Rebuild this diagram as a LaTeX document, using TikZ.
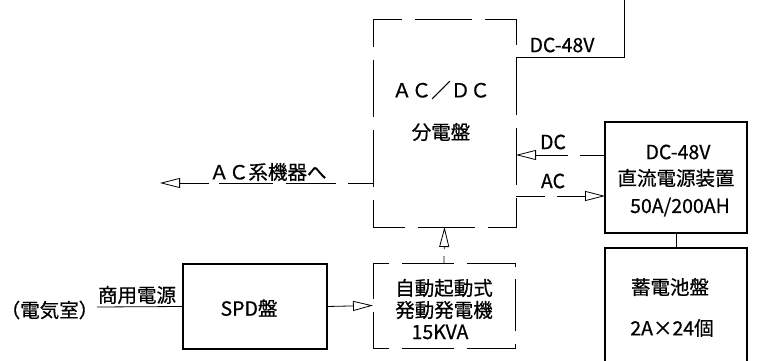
\documentclass[tikz,border=0pt]{standalone}
\usepackage{fontspec}
\setmainfont{Noto Sans CJK JP}[FakeBold=0.6]
\usetikzlibrary{arrows.meta}
\begin{document}
\begin{tikzpicture}[x=1pt,y=-1pt,
  solidbox/.style={draw, line width=1.3pt, inner sep=0pt, outer sep=0pt},
  dbox/.style={draw, line width=0.8pt, inner sep=0pt, outer sep=0pt},
  txt/.style={font=\fontsize{19.5}{22}\selectfont, inner sep=0pt},
  wire/.style={line width=0.8pt},
  arr/.style={-{Triangle[open,length=20pt,width=10pt,line width=0.8pt]}},
]
\useasboundingbox (0,0) rectangle (763,361);

% boxes
\node[dbox, dash pattern=on 57pt off 13pt, dash phase=25pt,
      minimum width=143pt, minimum height=208pt] (panel) at (444.5,123) {};
\node[dbox, dash pattern=on 52pt off 12.857pt, dash phase=36pt,
      minimum width=142pt, minimum height=85pt] (gen) at (444,305.5) {};
\node[solidbox, minimum width=144pt, minimum height=85pt] (spd) at (255,306.5) {};
\node[solidbox, minimum width=142pt, minimum height=111pt] (power) at (676,177.5) {};
\node[solidbox, minimum width=142pt, minimum height=124pt] (batt) at (676,310) {};

% texts
\node[txt] (tacdc) at (441,90) {ＡＣ／ＤＣ};
\node[txt] (tbun) at (441,132) {分電盤};
\node[txt] (tdc48) at (562,45) {DC-48V};
\node[txt] (tacsys) at (268,172) {ＡＣ系機器へ};
\node[txt] (tdc) at (553,142) {DC};
\node[txt] (tac) at (553,181) {AC};
\node[txt] (tp1) at (678,152) {DC-48V};
\node[txt] (tp2) at (676,178) {直流電源装置};
\node[txt] (tp3) at (680,207) {50A/200AH};
\node[txt] (tb1) at (670,287) {蓄電池盤};
\node[txt] (tb2) at (672,328) {2A×24個};
\node[txt] (tg1) at (444,288) {自動起動式};
\node[txt] (tg2) at (444,310) {発動発電機};
\node[txt] (tg3) at (440,332) {15KVA};
\node[txt] (tspd) at (249,308) {SPD盤};
\node[txt] (tshou) at (137,295) {商用電源};
\node[txt] (troom) at (49.5,310) {（電気室）};

% helper coordinates
\coordinate (ytop) at (0,57);
\coordinate (ydc) at (0,155);
\coordinate (yac) at (0,196);
\coordinate (ysys) at (0,183);
\coordinate (topend) at (624,0);
\coordinate (sysend) at (160,183);
\coordinate (inend) at (97,307);

% connectors
\draw[wire] (panel.east |- ytop) -| (topend);
\draw[wire, arr, dash pattern=on 25pt off 12pt on 40pt] (power.west |- ydc) -- (panel.east |- ydc);
\draw[wire, arr, dash pattern=on 29pt off 12pt on 40pt] (panel.east |- yac) -- (power.west |- yac);
\draw[wire, arr, dash pattern=on 25pt off 12pt on 50pt off 13pt on 54pt off 10pt on 40pt] (panel.west |- ysys) -- (sysend);
\draw[wire, arr, dash pattern=on 7pt off 7pt on 30pt] (gen.north) -- (panel.south);
\draw[wire, arr] (spd.east) -- (gen.west);
\draw[wire] (inend) -- (spd.west);
\draw[wire] (power.south) -- (batt.north);
\end{tikzpicture}
\end{document}
